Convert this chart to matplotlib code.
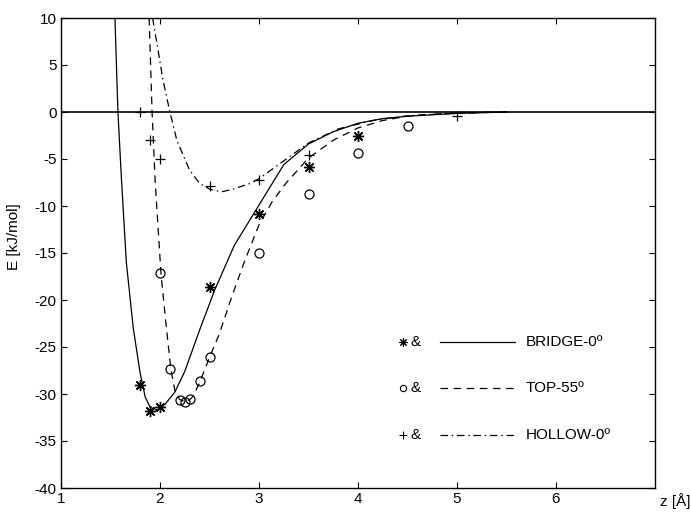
import matplotlib
matplotlib.use("Agg")
import matplotlib.pyplot as plt

plt.rcParams['font.family'] = ['Liberation Sans', 'DejaVu Sans']

# ---- data ----
bridge_pts_z = [1.8, 1.9, 2.0, 2.5, 3.0, 3.5, 4.0]
bridge_pts_E = [-29.0, -31.8, -31.4, -18.6, -10.8, -5.8, -2.5]

top_pts_z = [2.0, 2.1, 2.2, 2.25, 2.3, 2.4, 2.5, 3.0, 3.5, 4.0, 4.5]
top_pts_E = [-17.1, -27.3, -30.6, -30.9, -30.5, -28.6, -26.1, -15.0, -8.7, -4.4, -1.5]

hollow_pts_z = [1.8, 1.9, 2.0, 2.5, 3.0, 3.5, 5.0]
hollow_pts_E = [0.0, -3.0, -5.0, -7.9, -7.2, -4.6, -0.4]

bridge_curve_z = [1.545, 1.575, 1.61, 1.66, 1.73, 1.80, 1.85, 1.90, 1.97, 2.05, 2.15,
                  2.25, 2.40, 2.55, 2.75, 3.0, 3.25, 3.5, 3.75, 4.0, 4.25, 4.5, 4.75,
                  5.0, 5.5]
bridge_curve_E = [10, 0, -7.0, -16.0, -23.0, -27.8, -30.3, -31.4, -31.7, -31.1, -29.8,
                  -27.6, -23.2, -19.0, -14.2, -9.9, -5.6, -3.4, -2.1, -1.2, -0.7, -0.45,
                  -0.3, -0.15, 0.0]

top_curve_z = [1.89, 1.92, 1.95, 2.01, 2.06, 2.11, 2.15, 2.2, 2.27, 2.33, 2.4, 2.5, 2.6,
               2.72, 2.85, 3.0, 3.13, 3.27, 3.5, 3.75, 4.0, 4.25, 4.5, 4.75, 5.0, 5.5]
top_curve_E = [10, 0, -7.2, -17.2, -22.5, -27.4, -29.6, -30.6, -30.9, -30.3, -28.8,
               -26.1, -23.6, -19.8, -16.0, -12.0, -9.6, -7.6, -4.9, -3.0, -1.7, -0.9,
               -0.45, -0.25, -0.12, 0.0]

hollow_curve_z = [1.925, 1.98, 2.03, 2.10, 2.17, 2.24, 2.30, 2.40, 2.50, 2.62, 2.74,
                  2.91, 3.0, 3.25, 3.5, 3.8, 4.15, 4.5, 5.0, 5.5]
hollow_curve_E = [10, 6.6, 3.4, 0.0, -3.0, -4.75, -6.2, -7.6, -8.2, -8.5, -8.2,
                  -7.6, -7.1, -5.2, -3.3, -1.8, -0.9, -0.4, -0.1, 0.0]

legend_labels = ['BRIDGE-0º', 'TOP-55º', 'HOLLOW-0º']
xticks = [1, 2, 3, 4, 5, 6]
yticks = [10, 5, 0, -5, -10, -15, -20, -25, -30, -35, -40]

# ---- figure ----
fig = plt.figure(figsize=(6.91, 5.12), dpi=100)
ax = fig.add_axes([61/691, 24/512, 594/691, 470/512])

ast = (8, 2, 0)
dashed = (0, (6.0, 4.5))
dashdot = (0, (6.0, 3.0, 1.2, 3.0))
lw = 0.9

ax.axhline(0, color='black', lw=1.2, zorder=1)

ax.plot(bridge_curve_z, bridge_curve_E, color='black', lw=lw, linestyle='-')
ax.plot(top_curve_z, top_curve_E, color='black', lw=lw, linestyle=dashed)
ax.plot(hollow_curve_z, hollow_curve_E, color='black', lw=lw, linestyle=dashdot)

ax.plot(bridge_pts_z, bridge_pts_E, linestyle='none', marker=ast, ms=8,
        color='black', mew=1.0)
ax.plot(top_pts_z, top_pts_E, linestyle='none', marker='o', ms=6.5,
        mfc='none', mec='black', mew=0.9)
ax.plot(hollow_pts_z, hollow_pts_E, linestyle='none', marker='+', ms=7.5,
        color='black', mew=0.9)

ax.set_xlim(1, 7)
ax.set_ylim(-40, 10)
ax.set_xticks(xticks)
ax.set_yticks(yticks)
ax.set_yticklabels([str(v) for v in yticks])
ax.tick_params(direction='in', top=True, right=True, length=4, width=0.8,
               labelsize=11, pad=3)
for s in ax.spines.values():
    s.set_linewidth(1.0)

ax.set_ylabel('E [kJ/mol]', fontsize=11)
ax.yaxis.set_label_coords(-0.068, 0.535)
fig.text(690/691, 3/512, 'z [Å]', fontsize=11, ha='right', va='bottom')

# ---- custom legend ----
rows = [0.311, 0.213, 0.113]
styles = [('-', ast, 'black', 6), (dashed, 'o', 'none', 4.5), (dashdot, '+', 'black', 6)]
for (ls, mk, fc, ms), lab, yr in zip(styles, legend_labels, rows):
    if mk == 'o':
        ax.plot([0.576], [yr], transform=ax.transAxes, marker=mk, ms=ms,
                mfc='none', mec='black', mew=0.8, linestyle='none', clip_on=False)
    else:
        ax.plot([0.576], [yr], transform=ax.transAxes, marker=mk, ms=ms,
                color='black', mew=0.8, linestyle='none', clip_on=False)
    ax.text(0.589, yr, '&', transform=ax.transAxes, fontsize=11,
            ha='left', va='center')
    ax.plot([0.638, 0.764], [yr, yr], transform=ax.transAxes, color='black',
            lw=lw, linestyle=ls)
    ax.text(0.783, yr, lab, transform=ax.transAxes, fontsize=11,
            ha='left', va='center')

fig.savefig('out.png', dpi=100)
